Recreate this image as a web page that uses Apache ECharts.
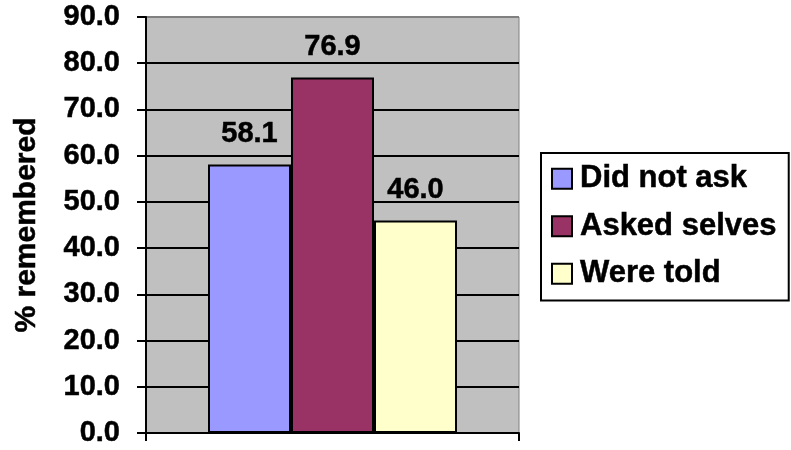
<!DOCTYPE html>
<html>
<head>
<meta charset="utf-8">
<script src="https://cdn.jsdelivr.net/npm/echarts@6/dist/echarts.min.js"></script>
<style>
  html, body { margin: 0; padding: 0; background: #fff; }
  #chart { width: 791px; height: 450px; }
</style>
</head>
<body>
<div id="chart"></div>
<script>
const seriesNames = ['Did not ask', 'Asked selves', 'Were told']
const seriesValues = [58.1, 76.9, 46.0]
const seriesColors = ['#9999FF', '#993366', '#FFFFCC']
const yTicks = { min: 0, max: 90, interval: 10 }
const yTitle = '% remembered'

const font = "'Liberation Sans', Arial, sans-serif"
// the original text is a little heavier than plain bold
const heavy = { textBorderColor: '#000', textBorderWidth: 0.5 }

const chart = echarts.init(document.getElementById('chart'))

// top gridline sits on the plot border, which is gray
const splitColors = []
for (let i = 0; i < 10; i++) splitColors.push(i === 9 ? '#808080' : '#000')

chart.setOption({
  animation: false,
  grid: {
    left: 146,
    right: 272,
    top: 17,
    bottom: 17,
    show: true,
    backgroundColor: '#C0C0C0',
    borderColor: '#808080',
    borderWidth: 1
  },
  legend: {
    orient: 'vertical',
    left: 541,
    top: 153,
    padding: [10, 12, 11, 10],
    borderColor: '#000',
    borderWidth: 2,
    itemWidth: 20,
    itemHeight: 20,
    itemGap: 16,
    icon: 'rect',
    itemStyle: { borderColor: '#000', borderWidth: 2 },
    textStyle: {
      fontFamily: font,
      fontWeight: 'bold',
      fontSize: 31,
      lineHeight: 30,
      color: '#000',
      padding: [0, 0, 0, 3],
      ...heavy
    },
    data: seriesNames
  },
  xAxis: {
    type: 'category',
    data: [''],
    axisLine: { lineStyle: { color: '#000', width: 2 } },
    axisTick: { show: true, length: 8, lineStyle: { color: '#000', width: 2 } },
    axisLabel: { show: false },
    splitLine: { show: false }
  },
  yAxis: {
    type: 'value',
    min: yTicks.min,
    max: yTicks.max,
    interval: yTicks.interval,
    name: yTitle,
    nameLocation: 'middle',
    nameGap: 104,
    nameRotate: 90,
    nameTextStyle: {
      fontFamily: font,
      fontWeight: 'bold',
      fontSize: 30,
      color: '#000',
      ...heavy
    },
    axisLine: { show: true, lineStyle: { color: '#000', width: 2 } },
    axisTick: { show: true, length: 9, lineStyle: { color: '#000', width: 2 } },
    axisLabel: {
      margin: 26,
      fontFamily: font,
      fontWeight: 'bold',
      fontSize: 29,
      color: '#000',
      ...heavy,
      formatter: v => v.toFixed(1)
    },
    splitLine: { show: true, lineStyle: { color: splitColors, width: 2 } }
  },
  series: seriesNames.map((name, i) => ({
    name: name,
    type: 'bar',
    barWidth: 83,
    barGap: '0%',
    data: [seriesValues[i]],
    itemStyle: { color: seriesColors[i], borderColor: '#000', borderWidth: 2 },
    label: {
      show: true,
      position: 'top',
      distance: 16,
      fontFamily: font,
      fontWeight: 'bold',
      fontSize: 29,
      color: '#000',
      ...heavy,
      formatter: p => p.value.toFixed(1)
    }
  }))
})
</script>
</body>
</html>
